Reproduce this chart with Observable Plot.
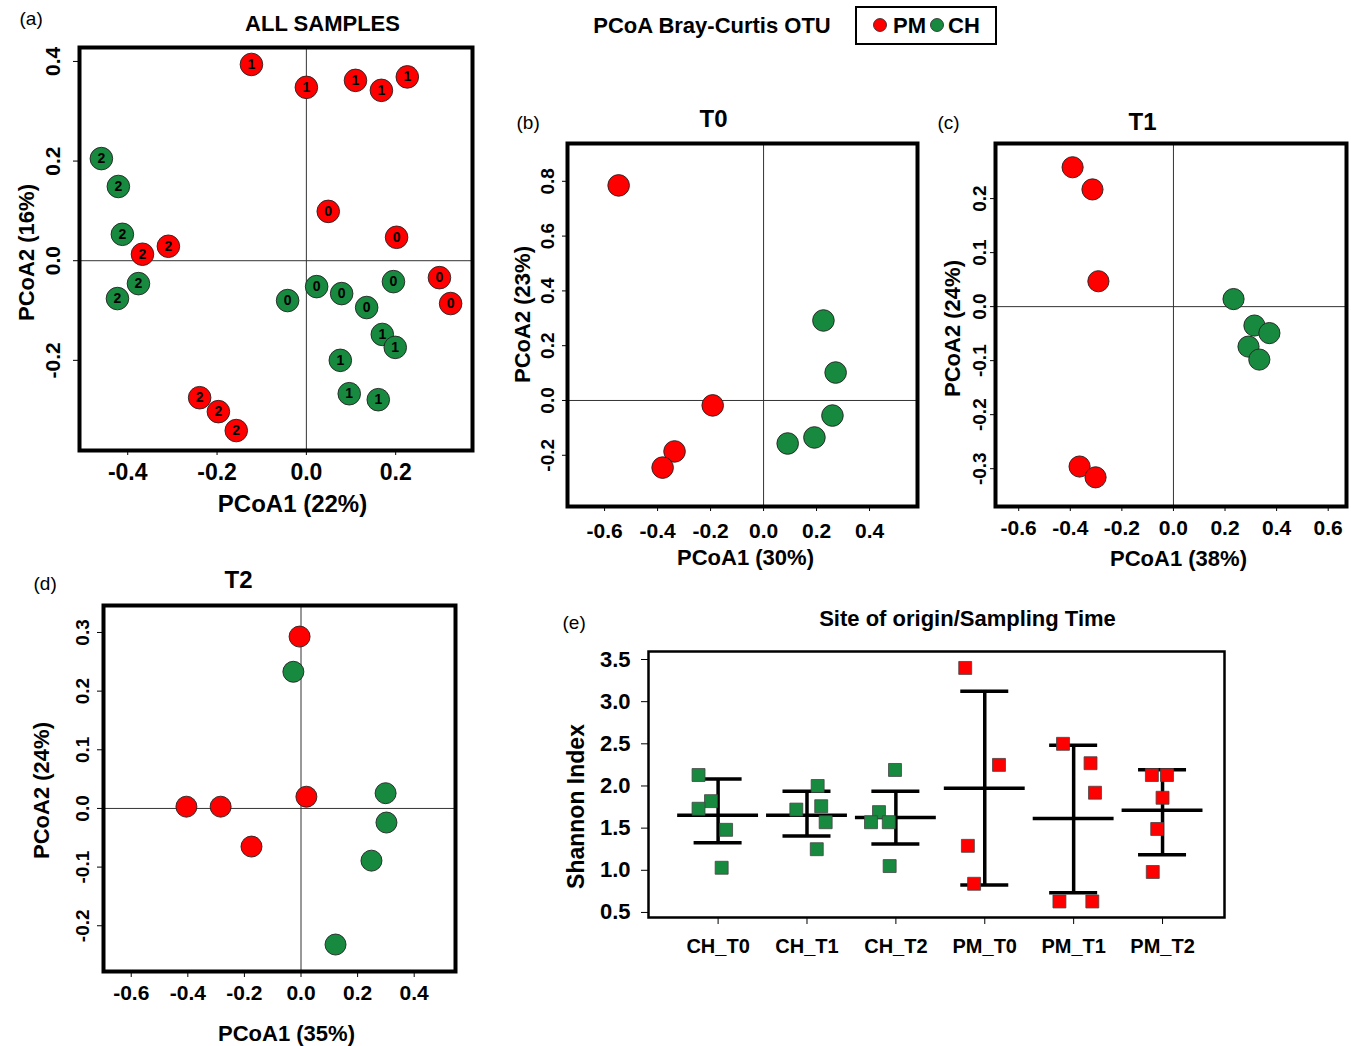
<!DOCTYPE html>
<html>
<head>
<meta charset="utf-8">
<script src="https://cdn.jsdelivr.net/npm/d3@7"></script>
<script src="https://cdn.jsdelivr.net/npm/@observablehq/plot@0.6"></script>
<style>
  body { margin: 0; background: #fff; }
  #root { position: relative; width: 1351px; height: 1046px; background: #fff; overflow: hidden;
          font-family: "Liberation Sans", Arial, Helvetica, sans-serif; }
</style>
</head>
<body>
<div id="root"></div>
<script>
const RED = "#ff0000";
const GREEN = "#178a3f";
const FONT = '"Liberation Sans", Arial, Helvetica, sans-serif';

// ---------- Panel (a): ALL SAMPLES ----------
const allSite = ["CH","CH","CH","CH","CH","CH","CH","CH","CH","CH","CH","CH","CH","CH","CH",
                 "PM","PM","PM","PM","PM","PM","PM","PM","PM","PM","PM","PM","PM","PM"];
const allTime = ["2","2","2","2","2","0","0","0","0","0","1","1","1","1","1",
                 "1","1","1","1","1","0","0","0","0","2","2","2","2","2"];
const allPC1 = [-0.459,-0.421,-0.412,-0.376,-0.423, -0.042,0.023,0.079,0.135,0.195, 0.170,0.199,0.076,0.096,0.161,
                -0.123,0.000,0.110,0.168,0.226, 0.049,0.202,0.298,0.323, -0.367,-0.309,-0.239,-0.197,-0.157];
const allPC2 = [0.205,0.149,0.053,-0.046,-0.076, -0.080,-0.052,-0.066,-0.094,-0.042, -0.148,-0.174,-0.200,-0.267,-0.279,
                0.394,0.348,0.362,0.342,0.369, 0.099,0.047,-0.034,-0.086, 0.013,0.029,-0.275,-0.303,-0.341];
const allXTicks = [-0.4, -0.2, 0, 0.2];
const allYTicks = [-0.2, 0, 0.2, 0.4];

// ---------- Panel (b): T0 ----------
const t0Site = ["CH","CH","CH","CH","CH","PM","PM","PM","PM"];
const t0PC1 = [0.226,0.272,0.260,0.192,0.091, -0.547,-0.192,-0.336,-0.381];
const t0PC2 = [0.292,0.102,-0.055,-0.135,-0.157, 0.785,-0.018,-0.186,-0.245];
const t0XTicks = [-0.6,-0.4,-0.2,0,0.2,0.4];
const t0YTicks = [-0.2,0,0.2,0.4,0.6,0.8];

// ---------- Panel (c): T1 ----------
const t1Site = ["CH","CH","CH","CH","CH","PM","PM","PM","PM","PM"];
const t1PC1 = [0.233,0.314,0.372,0.291,0.333, -0.391,-0.314,-0.291,-0.364,-0.302];
const t1PC2 = [0.014,-0.035,-0.049,-0.074,-0.098, 0.258,0.217,0.047,-0.296,-0.316];
const t1XTicks = [-0.6,-0.4,-0.2,0,0.2,0.4,0.6];
const t1YTicks = [-0.3,-0.2,-0.1,0,0.1,0.2];

// ---------- Panel (d): T2 ----------
const t2Site = ["CH","CH","CH","CH","CH","PM","PM","PM","PM","PM"];
const t2PC1 = [-0.027,0.299,0.302,0.249,0.122, -0.005,-0.405,-0.284,-0.175,0.019];
const t2PC2 = [0.233,0.026,-0.024,-0.089,-0.232, 0.293,0.003,0.003,-0.065,0.020];
const t2XTicks = [-0.6,-0.4,-0.2,0,0.2,0.4];
const t2YTicks = [-0.2,-0.1,0,0.1,0.2,0.3];

// ---------- Panel (e): Shannon index ----------
const shCategory = ["CH_T0","CH_T1","CH_T2","PM_T0","PM_T1","PM_T2"];
const shCatSite  = ["CH","CH","CH","PM","PM","PM"];
const shMean  = [1.652,1.652,1.625,1.973,1.613,1.711];
const shUpper = [2.082,1.938,1.938,3.125,2.484,2.191];
const shLower = [1.328,1.406,1.313,0.824,0.734,1.184];
const shPointCat = ["CH_T0","CH_T0","CH_T0","CH_T0","CH_T0",
                    "CH_T1","CH_T1","CH_T1","CH_T1","CH_T1",
                    "CH_T2","CH_T2","CH_T2","CH_T2","CH_T2",
                    "PM_T0","PM_T0","PM_T0","PM_T0",
                    "PM_T1","PM_T1","PM_T1","PM_T1","PM_T1",
                    "PM_T2","PM_T2","PM_T2","PM_T2","PM_T2"];
const shPointValue = [2.13,1.82,1.73,1.48,1.03,
                      1.72,2.00,1.76,1.57,1.25,
                      2.19,1.69,1.57,1.57,1.05,
                      3.40,2.25,1.29,0.84,
                      2.50,2.27,1.92,0.63,0.63,
                      2.13,2.13,1.86,1.49,0.98];
const shPointJitter = [-0.22,-0.08,-0.22,0.09,0.04,
                       -0.12,0.12,0.16,0.21,0.11,
                       -0.01,-0.19,-0.28,-0.08,-0.07,
                       -0.22,0.16,-0.19,-0.12,
                       -0.12,0.19,0.24,-0.16,0.21,
                       -0.12,0.05,0.00,-0.06,-0.11];
const shYTicks = [0.5,1.0,1.5,2.0,2.5,3.0,3.5];

// ---------- legend ----------
const legendTitle = "PCoA Bray-Curtis OTU";
const legendKeys = ["PM","CH"];

const root = document.getElementById("root");
function place(svg, left, top) {
  svg.style.position = "absolute";
  svg.style.left = left + "px";
  svg.style.top = top + "px";
  root.appendChild(svg);
}
const fmt1 = d => d.toFixed(1);

function pcoaPanel(c) {
  const data = c.site.map((s, i) => ({site: s, pc1: c.pc1[i], pc2: c.pc2[i], time: c.time ? c.time[i] : ""}));
  const [fx0, fy0, fx1, fy1] = c.frame;
  const cx = (fx0 + fx1) / 2, cy = (fy0 + fy1) / 2;
  const svg = Plot.plot({
    width: c.width, height: c.height,
    marginLeft: fx0 - c.left, marginTop: fy0 - c.top,
    marginRight: c.left + c.width - fx1, marginBottom: c.top + c.height - fy1,
    x: {domain: c.xDomain},
    y: {domain: c.yDomain},
    color: {domain: legendKeys, range: [RED, GREEN]},
    style: {fontFamily: FONT, background: "transparent", overflow: "visible", color: "black"},
    marks: [
      Plot.ruleX([0], {stroke: "#333", strokeWidth: 1}),
      Plot.ruleY([0], {stroke: "#333", strokeWidth: 1}),
      Plot.dot(data, {x: "pc1", y: "pc2", r: c.r, fill: "site", stroke: "#222", strokeWidth: 0.9}),
      c.time ? Plot.text(data, {x: "pc1", y: "pc2", text: "time", fontSize: 14, fontWeight: "bold", fill: "black"}) : null,
      Plot.frame({stroke: "black", strokeWidth: 4}),
      Plot.axisX({ticks: c.xTicks, tickFormat: fmt1, tickSize: c.xTickSize, tickPadding: c.xTickPad,
                  fontSize: c.xTickFont, fontWeight: "bold", label: null}),
      Plot.axisY({ticks: c.yTicks, tickFormat: fmt1, tickRotate: -90, tickSize: c.yTickSize, tickPadding: c.yTickPad,
                  fontSize: c.yTickFont, fontWeight: "bold", label: null}),
      Plot.text([c.title], {text: d => d, frameAnchor: "top", textAnchor: "middle", lineAnchor: "middle",
                            dx: c.titlePos[0] - cx, dy: c.titlePos[1] - fy0,
                            fontSize: c.titleFont, fontWeight: "bold"}),
      Plot.text([c.letter], {text: d => d, frameAnchor: "top-left", textAnchor: "start", lineAnchor: "middle",
                             dx: c.letterPos[0] - fx0, dy: c.letterPos[1] - fy0, fontSize: 19}),
      Plot.text([c.xLabel], {text: d => d, frameAnchor: "bottom", textAnchor: "middle", lineAnchor: "middle",
                             dx: c.xLabelPos[0] - cx, dy: c.xLabelPos[1] - fy1,
                             fontSize: c.xLabelFont, fontWeight: "bold"}),
      Plot.text([c.yLabel], {text: d => d, frameAnchor: "left", textAnchor: "middle", lineAnchor: "middle", rotate: -90,
                             dx: c.yLabelPos[0] - fx0, dy: c.yLabelPos[1] - cy,
                             fontSize: 22, fontWeight: "bold"})
    ]
  });
  place(svg, c.left, c.top);
}

// (a)
pcoaPanel({
  left: 0, top: 0, width: 490, height: 530, frame: [79, 47, 472, 450],
  xDomain: [-0.508, 0.372], yDomain: [-0.381, 0.428],
  xTicks: allXTicks, yTicks: allYTicks,
  site: allSite, pc1: allPC1, pc2: allPC2, time: allTime, r: 11.3,
  xTickSize: 5, xTickPad: 8, xTickFont: 23,
  yTickSize: 6, yTickPad: 14, yTickFont: 21,
  title: "ALL SAMPLES", titlePos: [322, 23], titleFont: 22,
  letter: "(a)", letterPos: [19, 18],
  xLabel: "PCoA1 (22%)", xLabelPos: [292, 504], xLabelFont: 24,
  yLabel: "PCoA2 (16%)", yLabelPos: [26, 252]
});

// (b)
pcoaPanel({
  left: 500, top: 95, width: 440, height: 485, frame: [567, 143, 917, 506],
  xDomain: [-0.740, 0.581], yDomain: [-0.387, 0.938],
  xTicks: t0XTicks, yTicks: t0YTicks,
  site: t0Site, pc1: t0PC1, pc2: t0PC2, r: 10.8,
  xTickSize: 5, xTickPad: 12, xTickFont: 21,
  yTickSize: 5, yTickPad: 9, yTickFont: 19,
  title: "T0", titlePos: [713, 119], titleFont: 24,
  letter: "(b)", letterPos: [516, 122],
  xLabel: "PCoA1 (30%)", xLabelPos: [745, 557], xLabelFont: 22,
  yLabel: "PCoA2 (23%)", yLabelPos: [522, 314]
});

// (c)
pcoaPanel({
  left: 930, top: 95, width: 421, height: 485, frame: [995, 143, 1346, 506],
  xDomain: [-0.690, 0.671], yDomain: [-0.370, 0.302],
  xTicks: t1XTicks, yTicks: t1YTicks,
  site: t1Site, pc1: t1PC1, pc2: t1PC2, r: 10.6,
  xTickSize: 5, xTickPad: 9, xTickFont: 21,
  yTickSize: 5, yTickPad: 5, yTickFont: 19,
  title: "T1", titlePos: [1142, 122], titleFont: 24,
  letter: "(c)", letterPos: [937, 122],
  xLabel: "PCoA1 (38%)", xLabelPos: [1178, 558], xLabelFont: 22,
  yLabel: "PCoA2 (24%)", yLabelPos: [952, 328]
});

// (d)
pcoaPanel({
  left: 0, top: 560, width: 480, height: 486, frame: [103, 605, 455, 971],
  xDomain: [-0.698, 0.546], yDomain: [-0.278, 0.346],
  xTicks: t2XTicks, yTicks: t2YTicks,
  site: t2Site, pc1: t2PC1, pc2: t2PC2, r: 10.5,
  xTickSize: 6, xTickPad: 8, xTickFont: 21,
  yTickSize: 6, yTickPad: 9, yTickFont: 19,
  title: "T2", titlePos: [238, 580], titleFont: 24,
  letter: "(d)", letterPos: [33, 583],
  xLabel: "PCoA1 (35%)", xLabelPos: [286, 1033], xLabelFont: 22,
  yLabel: "PCoA2 (24%)", yLabelPos: [41, 790]
});

// (e)
(function () {
  const left = 540, top = 595, width = 700, height = 380;
  const [fx0, fy0, fx1, fy1] = [648, 651, 1224, 917];
  const cx = (fx0 + fx1) / 2, cy = (fy0 + fy1) / 2;
  const points = shPointCat.map((c, i) => ({
    idx: shCategory.indexOf(c), site: shCatSite[shCategory.indexOf(c)],
    value: shPointValue[i], jitter: shPointJitter[i]
  }));
  const summary = shCategory.map((c, i) => ({idx: i, mean: shMean[i], upper: shUpper[i], lower: shLower[i]}));
  const svg = Plot.plot({
    width, height,
    marginLeft: fx0 - left, marginTop: fy0 - top, marginRight: left + width - fx1, marginBottom: top + height - fy1,
    x: {domain: [-0.783, 5.697]},
    y: {domain: [0.44, 3.595]},
    color: {domain: legendKeys, range: [RED, GREEN]},
    style: {fontFamily: FONT, background: "transparent", overflow: "visible", color: "black"},
    marks: [
      Plot.ruleX(summary, {x: "idx", y1: "lower", y2: "upper", stroke: "black", strokeWidth: 3.5}),
      Plot.ruleY(summary, {y: "mean", x1: d => d.idx - 0.455, x2: d => d.idx + 0.455, stroke: "black", strokeWidth: 3.5}),
      Plot.ruleY(summary, {y: "upper", x1: d => d.idx - 0.27, x2: d => d.idx + 0.27, stroke: "black", strokeWidth: 3.5}),
      Plot.ruleY(summary, {y: "lower", x1: d => d.idx - 0.27, x2: d => d.idx + 0.27, stroke: "black", strokeWidth: 3.5}),
      Plot.dot(points, {x: d => d.idx + d.jitter, y: "value", symbol: "square", r: 7.3,
                        fill: "site", stroke: "#444", strokeWidth: 0.8}),
      Plot.frame({stroke: "black", strokeWidth: 2.5}),
      Plot.axisX({ticks: [0,1,2,3,4,5], tickFormat: i => shCategory[i], tickSize: 7, tickPadding: 14,
                  fontSize: 20, fontWeight: "bold", label: null}),
      Plot.axisY({ticks: shYTicks, tickFormat: fmt1, tickSize: 7, tickPadding: 11,
                  fontSize: 22, fontWeight: "bold", label: null}),
      Plot.text(["Site of origin/Sampling Time"], {text: d => d, frameAnchor: "top", textAnchor: "middle", lineAnchor: "middle",
                  dx: 967 - cx, dy: 618 - fy0, fontSize: 22, fontWeight: "bold"}),
      Plot.text(["(e)"], {text: d => d, frameAnchor: "top-left", textAnchor: "start", lineAnchor: "middle",
                  dx: 562 - fx0, dy: 622 - fy0, fontSize: 19}),
      Plot.text(["Shannon Index"], {text: d => d, frameAnchor: "left", textAnchor: "middle", lineAnchor: "middle", rotate: -90,
                  dx: 576 - fx0, dy: 806 - cy, fontSize: 23, fontWeight: "bold"})
    ]
  });
  place(svg, left, top);
})();

// Legend (top)
(function () {
  const lg = d3.select(root).append("svg")
    .style("position", "absolute").style("left", "570px").style("top", "0px")
    .attr("width", 440).attr("height", 50)
    .style("font-family", FONT);
  lg.append("text").attr("x", 142).attr("y", 33).attr("text-anchor", "middle")
    .attr("font-size", 22).attr("font-weight", "bold").text(legendTitle);
  lg.append("rect").attr("x", 286).attr("y", 7).attr("width", 140).attr("height", 37)
    .attr("fill", "none").attr("stroke", "black").attr("stroke-width", 2);
  const pos = [[310, 323], [367, 378]];
  legendKeys.forEach((k, i) => {
    lg.append("circle").attr("cx", pos[i][0]).attr("cy", 25).attr("r", 6.5)
      .attr("fill", k === "PM" ? RED : GREEN).attr("stroke", "#222").attr("stroke-width", 0.8);
    lg.append("text").attr("x", pos[i][1]).attr("y", 33).attr("font-size", 22).attr("font-weight", "bold").text(k);
  });
})();
</script>
</body>
</html>
